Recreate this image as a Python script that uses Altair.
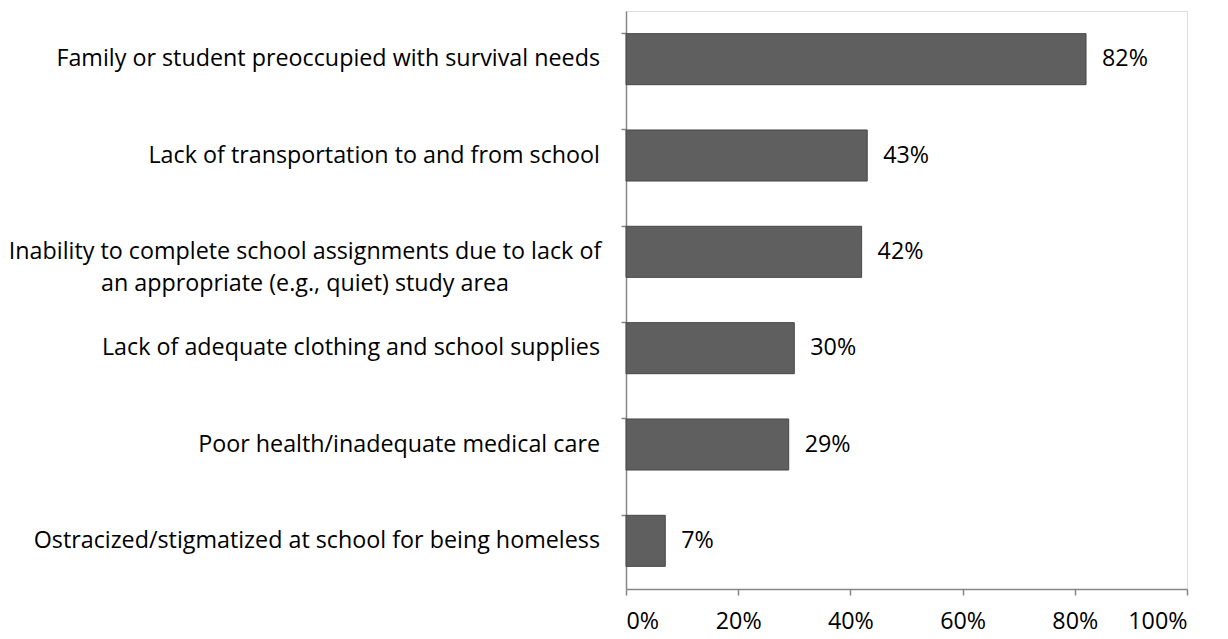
import altair as alt
import pandas as pd

categories = [
    "Family or student preoccupied with survival needs",
    "Lack of transportation to and from school",
    "Inability to complete school assignments due to lack of an appropriate (e.g., quiet) study area",
    "Lack of adequate clothing and school supplies",
    "Poor health/inadequate medical care",
    "Ostracized/stigmatized at school for being homeless",
]
label_lines = [
    ["Family or student preoccupied with survival needs"],
    ["Lack of transportation to and from school"],
    ["Inability to complete school assignments due to lack of", "an appropriate (e.g., quiet) study area"],
    ["Lack of adequate clothing and school supplies"],
    ["Poor health/inadequate medical care"],
    ["Ostracized/stigmatized at school for being homeless"],
]
values = [0.82, 0.43, 0.42, 0.30, 0.29, 0.07]
x_ticks = [0, 0.2, 0.4, 0.6, 0.8, 1.0]

df = pd.DataFrame({
    "category": categories,
    "lines": label_lines,
    "nlines": [len(l) for l in label_lines],
    "value": values,
})

FONT = "Open Sans"
FS = 23.3
AXIS_GRAY = "#868686"

y_enc = alt.Y(
    "category:N",
    sort=categories,
    scale=alt.Scale(paddingInner=0.47, paddingOuter=0.235),
    axis=alt.Axis(
        labels=False, title=None, bandPosition=0, tickSize=5,
        domainColor=AXIS_GRAY, tickColor=AXIS_GRAY, domainWidth=1.5, tickWidth=1.5,
    ),
)

x_enc = alt.X(
    "value:Q",
    scale=alt.Scale(domain=[0, 1]),
    axis=alt.Axis(
        values=x_ticks, format=".0%", title=None, grid=False,
        tickSize=6, labelPadding=15, labelFontSize=FS, labelFont=FONT,
        labelColor="#000000", domainColor=AXIS_GRAY, tickColor=AXIS_GRAY,
        domainWidth=1.5, tickWidth=1.5,
    ),
)

base = alt.Chart(df)

bars = base.mark_bar(color="#5f5f5f", stroke="#474747", strokeWidth=1).encode(
    x=x_enc, y=y_enc
)

vals = base.mark_text(align="left", baseline="middle", dx=16, font=FONT, fontSize=FS, color="#000000").encode(
    x="value:Q", y=alt.Y("category:N", sort=categories), text=alt.Text("value:Q", format=".0%")
)

single = base.transform_filter("datum.nlines == 1").mark_text(
    align="right", baseline="middle", font=FONT, fontSize=FS, color="#000000"
).encode(
    x=alt.value(-26), y=alt.Y("category:N", sort=categories), text="lines"
)

multi = base.transform_filter("datum.nlines > 1").mark_text(
    align="center", baseline="middle", font=FONT, fontSize=FS, color="#000000", lineHeight=32
).encode(
    x=alt.value(-321), y=alt.Y("category:N", sort=categories), text="lines"
)

chart = alt.layer(bars, vals, single, multi).properties(
    width=561, height=578,
    padding={"top": 3, "left": 0, "right": 5, "bottom": 5},
).configure_view(stroke=None).configure(background="white")

chart.save("out.html", embed_options={"renderer": "svg", "actions": False})
